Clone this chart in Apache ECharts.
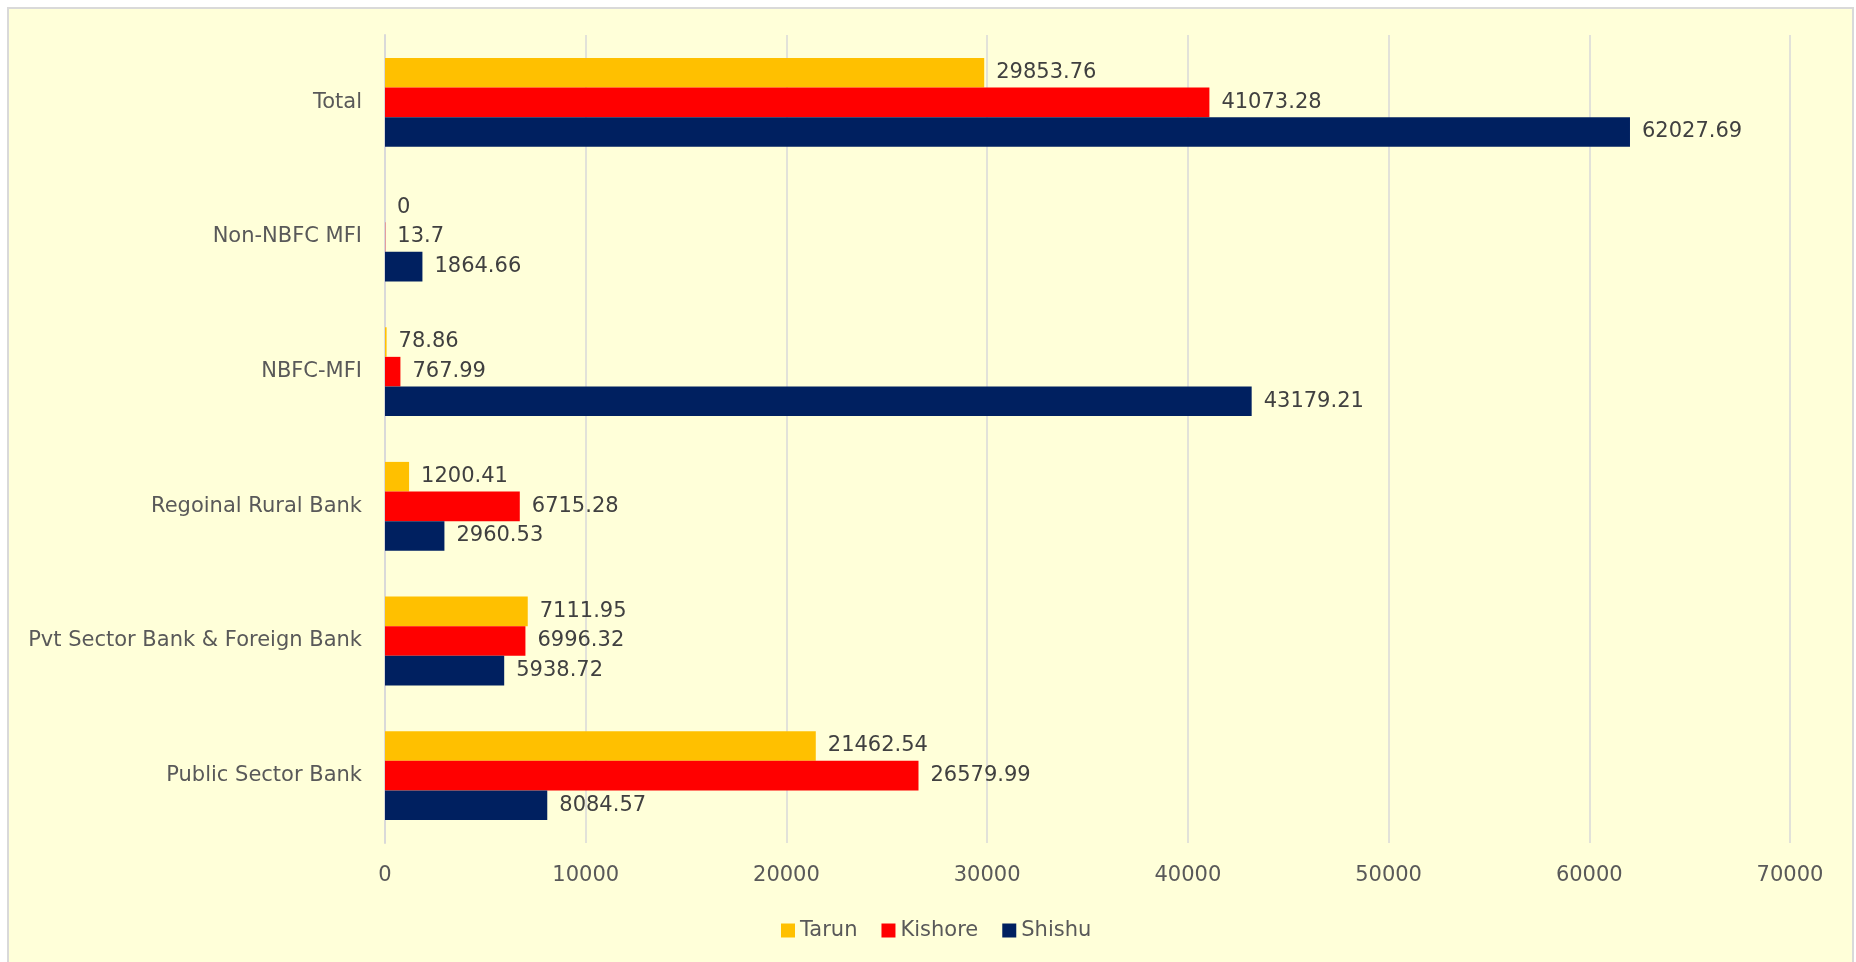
<!DOCTYPE html>
<html>
<head>
<meta charset="utf-8">
<script src="https://cdn.jsdelivr.net/npm/echarts@6/dist/echarts.min.js"></script>
<style>
  html, body { margin: 0; padding: 0; background: #ffffff; }
  #chartBox { width: 1856px; height: 962px; }
</style>
</head>
<body>
<div id="chartBox"></div>
<script>
// categories, top to bottom
const categories = ['Total', 'Non-NBFC MFI', 'NBFC-MFI', 'Regoinal Rural Bank', 'Pvt Sector Bank & Foreign Bank', 'Public Sector Bank']
const tarun = [29853.76, 0, 78.86, 1200.41, 7111.95, 21462.54]
const kishore = [41073.28, 13.7, 767.99, 6715.28, 6996.32, 26579.99]
const shishu = [62027.69, 1864.66, 43179.21, 2960.53, 5938.72, 8084.57]

const fontName = 'DejaVu Sans'

function makeSeries (name, data, color) {
  return {
    name: name,
    type: 'bar',
    data: data,
    barGap: '0%',
    barCategoryGap: '34%',
    itemStyle: { color: color },
    label: {
      show: true,
      position: 'right',
      distance: 12,
      color: '#404040',
      fontFamily: fontName,
      fontSize: 21
    }
  }
}

let myChart = echarts.init(document.getElementById('chartBox'))
myChart.setOption({
  backgroundColor: '#ffffff',
  animation: false,
  textStyle: { fontFamily: fontName },
  graphic: [{
    type: 'rect',
    left: 7,
    top: 7,
    shape: { width: 1845, height: 970 },
    style: { fill: '#ffffd9', stroke: '#d9d9d9', lineWidth: 2 },
    z: -10,
    silent: true
  }],
  grid: {
    left: 385,
    right: 66,
    top: 35,
    bottom: 119
  },
  legend: {
    bottom: 16,
    left: 776,
    itemWidth: 14,
    itemHeight: 14,
    itemGap: 24,
    icon: 'rect',
    data: ['Tarun', 'Kishore', 'Shishu'],
    textStyle: { color: '#595959', fontSize: 21, fontFamily: fontName, padding: [0, 0, 0, 0] }
  },
  xAxis: {
    type: 'value',
    min: 0,
    max: 70000,
    interval: 10000,
    axisLine: { show: false },
    axisTick: { show: false },
    axisLabel: {
      color: '#595959',
      fontSize: 21,
      fontFamily: fontName,
      margin: 22,
      formatter: function (v) { return String(v) }
    },
    splitLine: { lineStyle: { color: '#d9d9d9', width: 1.5 } }
  },
  yAxis: {
    type: 'category',
    inverse: true,
    data: categories,
    axisLine: { show: true, lineStyle: { color: '#d9d9d9', width: 2 } },
    axisTick: { show: false },
    axisLabel: { color: '#595959', fontSize: 21, fontFamily: fontName, margin: 23 }
  },
  series: [
    makeSeries('Tarun', tarun, '#ffc000'),
    makeSeries('Kishore', kishore, '#ff0000'),
    makeSeries('Shishu', shishu, '#002060')
  ]
})
</script>
</body>
</html>
